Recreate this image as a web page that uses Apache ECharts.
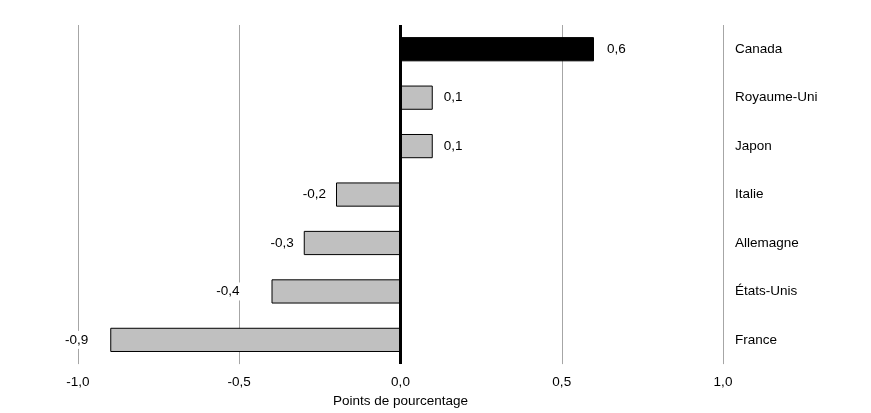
<!DOCTYPE html>
<html><head><meta charset="utf-8">
<script src="https://cdn.jsdelivr.net/npm/echarts@6/dist/echarts.min.js"></script>
<style>html,body{margin:0;padding:0;background:#fff}#c{width:871px;height:413px}</style>
</head><body><div id="c"></div>
<script>
const categories = ['Canada','Royaume-Uni','Japon','Italie','Allemagne','États-Unis','France'];
const values = [0.6, 0.1, 0.1, -0.2, -0.3, -0.4, -0.9];
const highlight = 'Canada';
const labelGaps = [12, 10, 10, 9, 9, 31, 21];
const fmt = v => v.toFixed(1).replace('.', ',');
const font = 'Liberation Sans, Arial, sans-serif';
const fs = 13.5;
const chart = echarts.init(document.getElementById('c'));
chart.setOption({
  animation: false,
  grid: {left: 78, right: 148, top: 25, bottom: 48},
  xAxis: {
    type: 'value', min: -1, max: 1, interval: 0.5,
    name: 'Points de pourcentage', nameLocation: 'middle', nameGap: 28,
    nameTextStyle: {color: '#000', fontFamily: font, fontSize: fs},
    axisLine: {show: false}, axisTick: {show: false},
    axisLabel: {color: '#000', fontFamily: font, fontSize: fs, margin: 11, formatter: v => fmt(v)},
    splitLine: {show: true, lineStyle: {color: '#a6a6a6', width: 1}}
  },
  yAxis: {
    type: 'category', data: categories, inverse: true, position: 'right',
    axisLine: {show: false}, axisTick: {show: false},
    axisLabel: {color: '#000', fontFamily: font, fontSize: fs, margin: 12, align: 'left'}
  },
  series: [{
    type: 'bar', barWidth: '50%',
    data: values.map((v, i) => ({
      value: v,
      itemStyle: {color: categories[i] === highlight ? '#000' : '#c0c0c0', borderColor: '#000', borderWidth: 1},
      label: {position: v >= 0 ? 'right' : 'left', distance: labelGaps[i]}
    })),
    label: {show: true, color: '#000', fontFamily: font, fontSize: fs, backgroundColor: '#fff', padding: [2, 1], formatter: p => fmt(p.value)},
    markLine: {
      silent: true, symbol: 'none', label: {show: false},
      lineStyle: {color: '#000', width: 3, type: 'solid'},
      data: [{xAxis: 0}]
    }
  }]
});
</script></body></html>
